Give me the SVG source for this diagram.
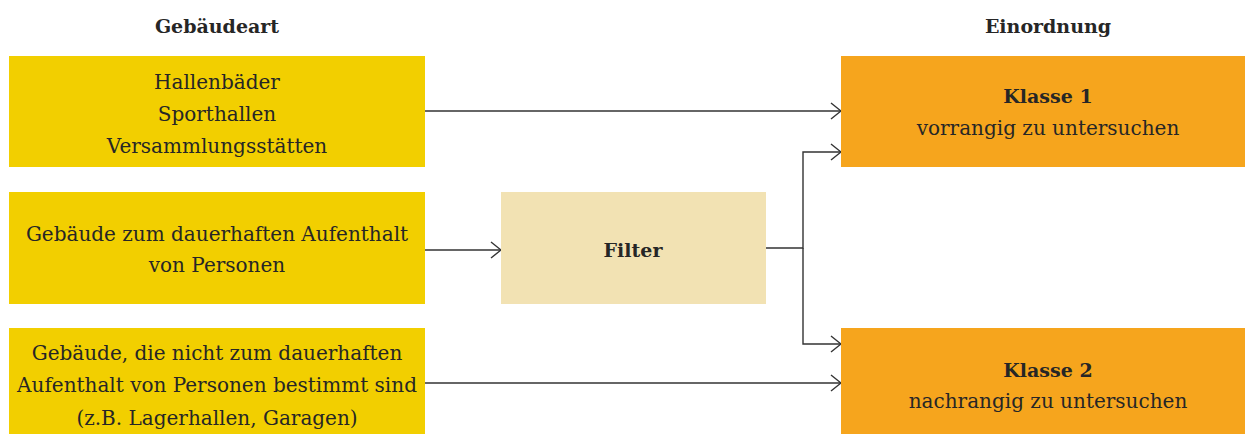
<svg xmlns="http://www.w3.org/2000/svg" width="1245" height="434" viewBox="0 0 1245 434">
<defs>
<style>
text{font-family:"DejaVu Serif","Liberation Serif",serif;fill:#262626;text-anchor:middle;font-size:20px}
.b{font-weight:bold;font-size:19px}
.src{fill:#F2CF00}
.cls{fill:#F6A51D}
.flt{fill:#F2E2B3}
.c{fill:none;stroke:#333;stroke-width:1.4}
</style>
<marker id="ah" viewBox="0 0 12 18" refX="11" refY="9" markerWidth="12" markerHeight="18" markerUnits="userSpaceOnUse" orient="auto">
<path d="M1,1 L11,9 L1,17" fill="none" stroke="#333" stroke-width="1.4"/>
</marker>
</defs>
<rect width="1245" height="434" fill="#fff"/>
<text class="b" x="217" y="33">Gebäudeart</text>
<text class="b" x="1048" y="33">Einordnung</text>
<g id="connectors">
<path class="c" d="M425,111 H841" marker-end="url(#ah)"/>
<path class="c" d="M425,250 H501" marker-end="url(#ah)"/>
<path class="c" d="M766,248 H803 V152 H841" marker-end="url(#ah)"/>
<path class="c" d="M803,248 V344 H841" marker-end="url(#ah)"/>
<path class="c" d="M425,383 H841" marker-end="url(#ah)"/>
</g>
<g id="n1">
<rect class="src" x="9" y="56" width="416" height="111"/>
<text x="217" y="89">Hallenbäder</text>
<text x="217" y="121">Sporthallen</text>
<text x="217" y="153">Versammlungsstätten</text>
</g>
<g id="n2">
<rect class="src" x="9" y="192" width="416" height="112"/>
<text x="217" y="241">Gebäude zum dauerhaften Aufenthalt</text>
<text x="217" y="272">von Personen</text>
</g>
<g id="n3">
<rect class="src" x="9" y="328" width="416" height="106"/>
<text x="217" y="360">Gebäude, die nicht zum dauerhaften</text>
<text x="217" y="392">Aufenthalt von Personen bestimmt sind</text>
<text x="217" y="425">(z.B. Lagerhallen, Garagen)</text>
</g>
<g id="filter">
<rect class="flt" x="501" y="192" width="265" height="112"/>
<text class="b" x="633" y="257">Filter</text>
</g>
<g id="k1">
<rect class="cls" x="841" y="56" width="404" height="111"/>
<text class="b" x="1048" y="103">Klasse 1</text>
<text x="1048" y="135">vorrangig zu untersuchen</text>
</g>
<g id="k2">
<rect class="cls" x="841" y="328" width="404" height="106"/>
<text class="b" x="1048" y="377">Klasse 2</text>
<text x="1048" y="408">nachrangig zu untersuchen</text>
</g>
</svg>
